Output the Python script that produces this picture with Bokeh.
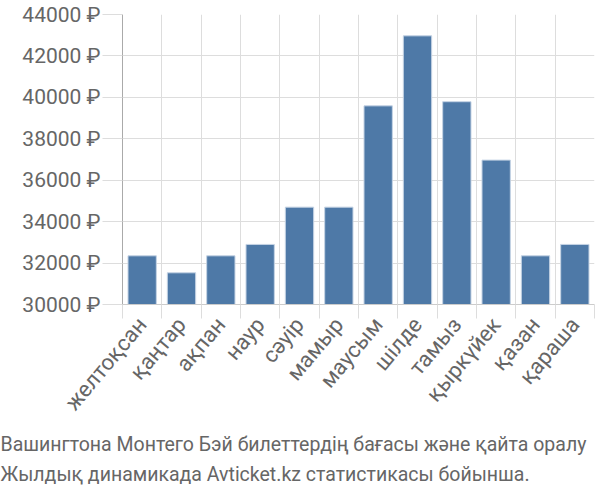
from bokeh.plotting import figure
from bokeh.models import FixedTicker, Range1d, Title, Grid
from bokeh.embed import file_html
from bokeh.resources import INLINE
import math

months = ["желтоқсан", "қаңтар", "ақпан", "наур", "сәуір", "мамыр",
          "маусым", "шілде", "тамыз", "қыркүйек", "қазан", "қараша"]
prices = [32350, 31530, 32350, 32900, 34700, 34700,
          39590, 42970, 39790, 36970, 32350, 32900]
y_ticks = [30000, 32000, 34000, 36000, 38000, 40000, 42000, 44000]
caption = ["Вашингтона Монтего Бэй билеттердің бағасы және қайта оралу",
           "Жылдық динамикада Avticket.kz статистикасы бойынша."]

n = len(months)
centers = [i + 0.5 for i in range(n)]
bounds = [float(i) for i in range(n + 1)]

p = figure(width=600, height=500, output_backend="svg", toolbar_location=None,
           x_range=Range1d(0, n), y_range=Range1d(30000, 44000),
           min_border_left=122, min_border_right=6, min_border_top=14,
           min_border_bottom=196)
p.outline_line_color = None
p.background_fill_color = "white"
p.border_fill_color = "white"

p.vbar(x=centers, top=prices, bottom=30000, width=0.72,
       fill_color="#4e79a7", line_color="#c5d3e4", line_width=1)

# grids
p.xgrid.visible = False
p.add_layout(Grid(dimension=0, ticker=FixedTicker(ticks=bounds),
                  grid_line_color="#dddddd", grid_line_width=1))
p.ygrid.ticker = FixedTicker(ticks=y_ticks)
p.ygrid.grid_line_color = "#dddddd"
p.ygrid.grid_line_width = 1

# x axis
xa = p.xaxis[0]
xa.ticker = FixedTicker(ticks=centers, minor_ticks=bounds)
xa.major_label_overrides = {c: m for c, m in zip(centers, months)}
xa.major_tick_line_color = None
xa.major_tick_out = 10
xa.major_tick_in = 0
xa.minor_tick_out = 14
xa.minor_tick_in = 0
xa.minor_tick_line_color = "#dddddd"
xa.axis_line_color = "#cccccc"
xa.major_label_orientation = math.radians(50)
xa.major_label_text_font = "Roboto"
xa.major_label_text_font_size = "22px"
xa.major_label_text_color = "#666666"
xa.major_label_standoff = 2

# y axis
ya = p.yaxis[0]
ya.ticker = FixedTicker(ticks=y_ticks)
ya.major_label_overrides = {t: f"{t} ₽" for t in y_ticks}
ya.axis_line_color = "#aaaaaa"
ya.major_tick_line_color = "#dddddd"
ya.major_tick_out = 20
ya.major_tick_in = 0
ya.minor_tick_line_color = None
ya.major_label_text_font = "Roboto"
ya.major_label_text_font_size = "21px"
ya.major_label_text_color = "#666666"
ya.major_label_standoff = 2

for i, line in enumerate(caption):
    p.add_layout(Title(text=line, align="left", text_font="Roboto",
                       text_font_size="19.5px", text_font_style="normal",
                       text_color="#666666", standoff=8 if i == 0 else 3,
                       offset=-122), "below")

open("out.html", "w").write(file_html(p, INLINE))
